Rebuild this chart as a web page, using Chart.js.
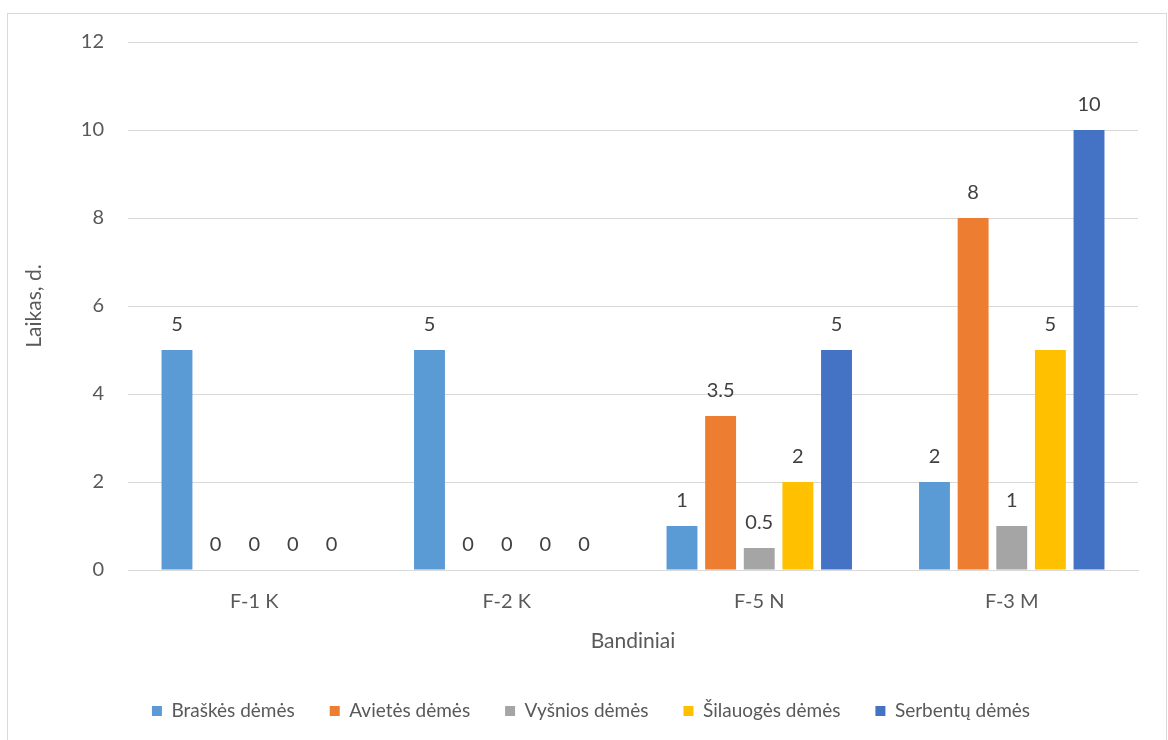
<!DOCTYPE html>
<html>
<head>
<meta charset="utf-8">
<script src="https://cdn.jsdelivr.net/npm/chart.js@4.4.1/dist/chart.umd.min.js"></script>
<style>
  html, body { margin: 0; padding: 0; background: #fff; overflow: hidden; }
  #wrap { position: absolute; left: 0; top: 0; width: 1168px; height: 740px; }
  #remelis { position: absolute; left: 7px; top: 13px; width: 1158px; height: 760px;
    border: 1px solid #d9d9d9; pointer-events: none; }
</style>
</head>
<body>
<div id="wrap">
  <canvas id="grafikas" width="1168" height="740"></canvas>
</div>
<div id="remelis"></div>
<script>
const bandiniai = ['F-1 K', 'F-2 K', 'F-5 N', 'F-3 M'];
const braskes = [5, 5, 1, 2];
const avietes = [0, 0, 3.5, 8];
const vysnios = [0, 0, 0.5, 1];
const silauoges = [0, 0, 2, 5];
const serbentai = [0, 0, 5, 10];
const yTicks = [0, 2, 4, 6, 8, 10, 12];

const sriftas = 'Lato, "Noto Sans", sans-serif';

// reiksmes virs stulpeliu
const reiksmiuPlugin = {
  id: 'reiksmes',
  afterDatasetsDraw(chart) {
    const ctx = chart.ctx;
    ctx.save();
    ctx.font = '20px ' + sriftas;
    ctx.fillStyle = '#404040';
    ctx.textAlign = 'center';
    ctx.textBaseline = 'middle';
    chart.data.datasets.forEach((ds, i) => {
      const meta = chart.getDatasetMeta(i);
      meta.data.forEach((el, j) => {
        ctx.fillText(String(ds.data[j]), el.x, el.y - 25);
      });
    });
    ctx.restore();
  }
};

// legenda truputi i desine, kaip Excel'yje
const legendosPoslinkis = {
  id: 'legendosPoslinkis',
  afterLayout(chart) {
    chart.legend.left += 16;
    chart.legend.right += 16;
  }
};

const grafikas = new Chart(document.getElementById('grafikas'), {
  type: 'bar',
  data: {
    labels: bandiniai,
    datasets: [
      { label: 'Braškės dėmės', data: braskes, backgroundColor: '#5B9BD5' },
      { label: 'Avietės dėmės', data: avietes, backgroundColor: '#ED7D31' },
      { label: 'Vyšnios dėmės', data: vysnios, backgroundColor: '#A5A5A5' },
      { label: 'Šilauogės dėmės', data: silauoges, backgroundColor: '#FFC000' },
      { label: 'Serbentų dėmės', data: serbentai, backgroundColor: '#4472C4' }
    ]
  },
  options: {
    responsive: false,
    animation: false,
    categoryPercentage: 0.765,
    barPercentage: 0.8,
    layout: { padding: { left: 12, right: 30, top: 42, bottom: 9.5 } },
    plugins: {
      legend: {
        position: 'bottom',
        labels: {
          boxWidth: 10,
          boxHeight: 10,
          padding: 35,
          color: '#595959',
          font: { family: sriftas, size: 19 }
        }
      },
      tooltip: { enabled: false }
    },
    scales: {
      x: {
        afterFit(axis) {
          axis.height = 96.5;
        },
        grid: { display: false, drawTicks: false },
        border: { display: true, color: '#d9d9d9' },
        ticks: { color: '#595959', padding: 20, font: { family: sriftas, size: 20 } },
        title: {
          display: true,
          text: 'Bandiniai',
          color: '#595959',
          padding: { top: 0, bottom: 13 },
          font: { family: sriftas, size: 21 }
        }
      },
      y: {
        min: 0,
        max: 12,
        afterBuildTicks(axis) {
          axis.ticks = yTicks.map(v => ({ value: v }));
        },
        afterFit(axis) {
          axis.width = 116;
        },
        grid: { color: '#d9d9d9', drawTicks: false },
        border: { display: false },
        ticks: { color: '#595959', padding: 24, font: { family: sriftas, size: 20 } },
        title: {
          display: true,
          text: 'Laikas, d.',
          color: '#595959',
          padding: { top: 10, bottom: 0 },
          font: { family: sriftas, size: 21 }
        }
      }
    }
  },
  plugins: [reiksmiuPlugin, legendosPoslinkis]
});
</script>
</body>
</html>
